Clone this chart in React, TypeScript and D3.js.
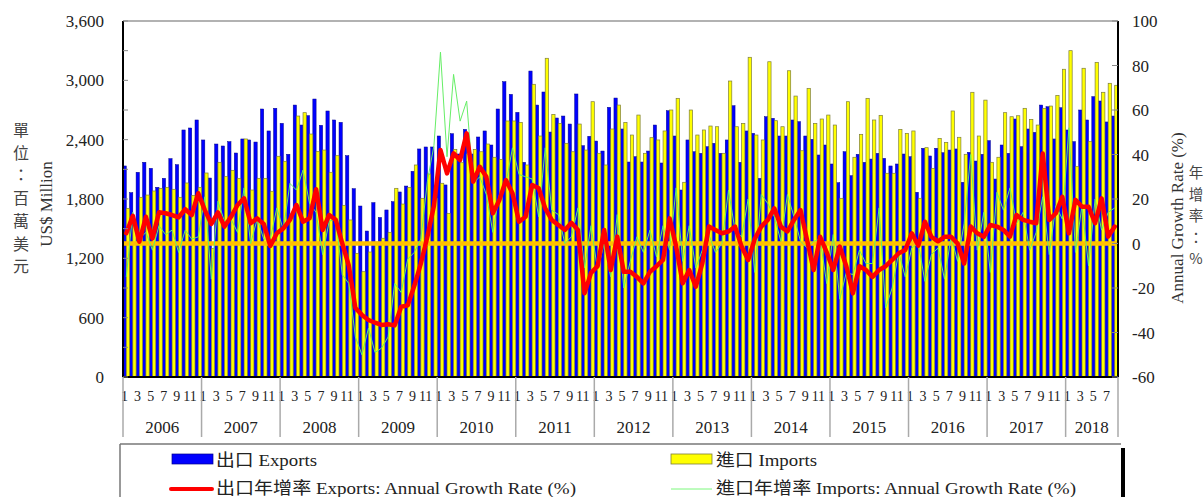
import React from 'react';
import * as d3 from 'd3';

// Monthly data, Jan 2006 - Aug 2018
const years = ['2006','2007','2008','2009','2010','2011','2012','2013','2014','2015','2016','2017','2018'];
const monthLabels = ['1','3','5','7','9','11'];

// 出口 Exports (US$ million)
const exportsValues = [
  2134,1864,2070,2171,2110,1918,2009,2208,2147,2498,2518,2599,
  2397,2012,2356,2336,2380,2265,2407,2397,2376,2710,2488,2717,
  2565,2252,2750,2548,2643,2811,2545,2690,2599,2575,2238,1904,
  1729,1476,1763,1613,1689,1773,1871,1931,2080,2306,2326,2326,
  2437,1942,2460,2255,2504,2255,2427,2488,2346,2710,2986,2858,
  2676,2171,3094,2750,2882,2477,2619,2639,2558,2862,2339,2434,
  2386,2285,2727,2821,2508,2174,2228,2174,2285,2548,2164,2693,
  2437,1891,2397,2278,2262,2329,2363,2262,2397,2743,2171,2488,
  2464,2009,2632,2616,2437,2437,2599,2582,2437,2404,2245,2346,
  2154,1965,2278,2036,2252,2171,2204,2262,2211,2134,2154,2255,
  2228,1868,2313,2235,2313,2268,2295,2306,1969,2272,2184,2252,
  2390,2002,2346,2262,2609,2329,2508,2474,2750,2733,2407,2723,
  2498,2380,2700,2599,2835,2791,2579,2639,
];

// 進口 Imports (US$ million)
const importsValues = [
  1705,1550,1817,1840,1881,1908,1918,1898,1817,1962,1837,1918,
  2063,1301,2171,2026,2090,2009,2407,1891,2009,2009,1878,2232,
  2181,1650,2639,2673,2457,2282,2295,2070,2238,1736,1588,1250,
  1065,1264,1365,1403,1463,1908,1749,1918,2144,1807,2053,1807,
  1959,1655,2302,2167,2255,2302,2278,2356,2222,2201,2589,2589,
  2575,2144,2960,2437,3223,2656,2565,2363,2278,2558,2295,2784,
  2262,2144,2508,2750,2575,2447,2649,2262,2420,2397,2488,2700,
  2818,1969,2700,2447,2498,2538,2531,2262,2993,2531,2565,3233,
  2447,2397,3188,2592,2531,3097,2841,2288,2919,2565,2609,2649,
  2548,1807,2784,2222,2454,2818,2599,2646,2060,2060,2504,2464,
  2488,1807,2319,2110,2413,2373,2690,2424,2252,2879,2437,2800,
  2171,2222,2673,2632,2642,2717,2605,2548,2717,2740,2848,3112,
  3300,2127,3122,2380,3182,2879,2970,2950,
];

// 出口年增率 Exports: Annual Growth Rate (%)
const exportsGrowth = [
  4.6,12.4,0.8,12,2.3,14,13.6,12.8,11.8,15.4,12.8,22.6,
  15,8.8,14,7.6,12,17.3,20.3,9.1,11.3,8.8,-1.1,4.6,
  6.8,10.6,17.3,9.8,11.3,24.4,6.1,12.8,10.6,0,-10,-29,
  -32.1,-34.4,-35.6,-36.6,-36.3,-36.8,-28.4,-27.8,-19,-9,3,17,
  42,31.5,40.5,37.5,49.5,27.8,34.5,30,13.6,19.6,28.5,22.6,
  9.8,12,26.3,24.8,15.8,10.6,8.3,6.1,9.3,6.1,-22.4,-13.2,
  -10.2,6.1,-11.9,3.1,-12.7,-12.7,-15,-17.9,-12.7,-10.2,-7.4,11.3,
  -1.4,-17.9,-11.9,-19.4,-8.9,7.6,6.1,4.6,5.4,7.6,-1.4,-7.4,
  2,7.6,10.6,15.8,7.6,5.4,10.6,15,1.6,-11.9,3,-4,
  -11.9,-1.4,-10.2,-22.4,-10.2,-11.9,-15,-11.9,-10.2,-7.4,-4.4,-2.9,
  4.6,-1,9.8,3,1,3,3,0,-9,7.6,4.6,3,
  8.3,7.6,6.1,3.1,12.8,10.6,9.8,9.1,40.5,10.6,13.6,21,
  4.6,19.6,16.5,16.5,9.1,20.3,3.1,7.6,
];

// 進口年增率 Imports: Annual Growth Rate (%)
const importsGrowth = [
  -15,14,2,5,-3,8,4,6,-4,6,2,3,
  21,-16,19,10,11,5,25,0,11,2,2,16,
  6,27,24,33,18,14,-5,10,11,-14,-18,-42,
  -50,-38,-49,-47,-42,-18,-22,-7,-4,2,28,44,
  86,39,76,55,64,27,30,22,5,22,27,43,
  31,30,29,12,43,15,13,0,3,16,-11,8,
  -12,0,-15,13,-20,-8,3,-4,6,-6,8,-3,
  25,-8,8,-11,-3,4,-4,0,24,6,3,20,
  -13,22,18,12,1,22,12,1,-2,1,2,-18,
  4,-25,-13,-14,-3,-9,-9,16,-29,-20,-4,-15,
  -2,0,-17,-5,-2,-16,3,-8,9,40,-3,14,
  -13,23,15,25,9,14,-3,5,21,-5,17,11,
  52,-4,17,-10,20,6,14,16,
];

const leftTicks = [0, 600, 1200, 1800, 2400, 3000, 3600];
const rightTicks = [-60, -40, -20, 0, 20, 40, 60, 80, 100];
const leftTitleChars = ['單', '位', '：', '百', '萬', '美', '元'];
const rightTitleChars = ['年', '增', '率', '：', '%'];

const SERIF = "'Liberation Serif', 'Times New Roman', 'Noto Sans CJK TC', serif";
const CJK = "'Noto Sans CJK TC', sans-serif";

export default function App() {
  const N = exportsValues.length;
  const L = 123, R = 1118, T = 21, B = 377;
  const x = d3.scaleLinear().domain([0, N]).range([L, R]);
  const yL = d3.scaleLinear().domain([0, 3600]).range([B, T]);
  const yR = d3.scaleLinear().domain([-60, 100]).range([B, T]);
  const bw = (x(1) - x(0)) / 2;

  const line = d3.line<number>()
    .x((_, i) => x(i + 0.5))
    .y((d) => yR(d));

  const minorLeft = d3.range(0, 3601, 300);

  return (
    <div style={{ position: 'absolute', left: 0, top: 0 }}>
      <svg width={1204} height={497} style={{ display: 'block', background: '#fff' }} fontFamily={SERIF}>
        {/* bars */}
        {exportsValues.map((v, i) => (
          <rect key={'e' + i} x={x(i)} y={yL(v)} width={bw} height={B - yL(v)}
            fill="#0000ff" stroke="#00008a" strokeWidth={0.5} />
        ))}
        {importsValues.map((v, i) => (
          <rect key={'m' + i} x={x(i) + bw} y={yL(v)} width={bw} height={B - yL(v)}
            fill="#ffff00" stroke="#7d7d3a" strokeWidth={0.7} />
        ))}

        {/* zero growth line */}
        <line x1={L} x2={R} y1={yR(0)} y2={yR(0)} stroke="#ffc000" strokeWidth={4.5} />

        {/* growth lines */}
        <path d={line(importsGrowth) || ''} fill="none" stroke="#66ee66" strokeWidth={1} />
        <path d={line(exportsGrowth) || ''} fill="none" stroke="#ff0000" strokeWidth={4.5}
          strokeLinejoin="round" strokeLinecap="round" />

        {/* frame */}
        <line x1={L} x2={R} y1={T} y2={T} stroke="#999" strokeWidth={1.5} />
        <line x1={L} x2={L} y1={T} y2={B} stroke="#000" strokeWidth={2} />
        <line x1={R} x2={R} y1={T} y2={B} stroke="#000" strokeWidth={2} />
        <line x1={L} x2={R} y1={B} y2={B} stroke="#000" strokeWidth={2} />

        {/* ticks */}
        {minorLeft.map((v) => (
          <line key={'lt' + v} x1={L} x2={L + 5} y1={yL(v)} y2={yL(v)} stroke="#888" strokeWidth={1} />
        ))}
        {rightTicks.map((v) => (
          <line key={'rt' + v} x1={R - 6} x2={R} y1={yR(v)} y2={yR(v)} stroke="#888" strokeWidth={1} />
        ))}

        {/* tick labels */}
        {leftTicks.map((v) => (
          <text key={'ll' + v} x={104} y={yL(v) + 6} textAnchor="end" fontSize={17} fill="#222">
            {d3.format(',')(v)}
          </text>
        ))}
        {rightTicks.map((v) => (
          <text key={'rl' + v} x={1132} y={yR(v) + 6} textAnchor="start" fontSize={17} fill="#222">
            {String(v)}
          </text>
        ))}

        {/* x axis: months and years */}
        {years.map((yr, j) =>
          monthLabels.map((m, mi) => {
            const k = j * 12 + mi * 2;
            if (k >= N) return null;
            return (
              <text key={yr + m} x={x(k) + 1.5} y={401} textAnchor="middle" fontSize={14} fill="#222">{m}</text>
            );
          })
        )}
        {years.map((yr, j) => {
          const s = j * 12;
          const e = Math.min(N, s + 12);
          return (
            <text key={'y' + yr} x={(x(s) + x(e)) / 2} y={433} textAnchor="middle" fontSize={17} fill="#222">{yr}</text>
          );
        })}
        {years.map((yr, j) => (
          <line key={'s' + yr} x1={x(j * 12)} x2={x(j * 12)} y1={B} y2={437} stroke="#aaa" strokeWidth={1.5} />
        ))}
        <line x1={x(N)} x2={x(N)} y1={B} y2={437} stroke="#aaa" strokeWidth={1.5} />

        {/* axis titles */}
        {leftTitleChars.map((c, i) => (
          <text key={'lc' + i} x={21} y={136 + i * 22.7} textAnchor="middle" fontSize={16} fill="#444"
            fontFamily={CJK}>{c}</text>
        ))}
        <text transform="translate(52,204) rotate(-90)" textAnchor="middle" fontSize={17} fill="#333">US$ Million</text>
        <text transform="translate(1183,218) rotate(-90)" textAnchor="middle" fontSize={17} fill="#333">Annual Growth Rate (%)</text>
        {rightTitleChars.map((c, i) => (
          <text key={'rc' + i} x={1196} y={178 + i * 21.5} textAnchor="middle" fontSize={14.5} fill="#444"
            fontFamily={CJK}>{c}</text>
        ))}

        {/* legend */}
        <line x1={120} x2={1121} y1={444} y2={444} stroke="#777" strokeWidth={1.5} />
        <line x1={120} x2={120} y1={444} y2={497} stroke="#777" strokeWidth={1.5} />
        <rect x={1121} y={448} width={4} height={49} fill="#000" />

        <rect x={172} y={454} width={41} height={10} fill="#0000ff" stroke="#00008a" strokeWidth={0.7} />
        <text x={216} y={466} fontSize={17.5} fill="#222" textLength={101} lengthAdjust="spacingAndGlyphs">出口 Exports</text>
        <line x1={171} x2={212} y1={489} y2={489} stroke="#ff0000" strokeWidth={4} strokeLinecap="round" />
        <text x={216} y={494} fontSize={17.5} fill="#222" textLength={360} lengthAdjust="spacingAndGlyphs">出口年增率 Exports: Annual Growth Rate (%)</text>

        <rect x={671} y={454} width={41} height={10} fill="#ffff00" stroke="#7d7d3a" strokeWidth={0.8} />
        <text x={716} y={466} fontSize={17.5} fill="#222" textLength={101} lengthAdjust="spacingAndGlyphs">進口 Imports</text>
        <line x1={671} x2={712} y1={489} y2={489} stroke="#7cf87c" strokeWidth={1} />
        <text x={716} y={494} fontSize={17.5} fill="#222" textLength={360} lengthAdjust="spacingAndGlyphs">進口年增率 Imports: Annual Growth Rate (%)</text>
      </svg>
    </div>
  );
}
